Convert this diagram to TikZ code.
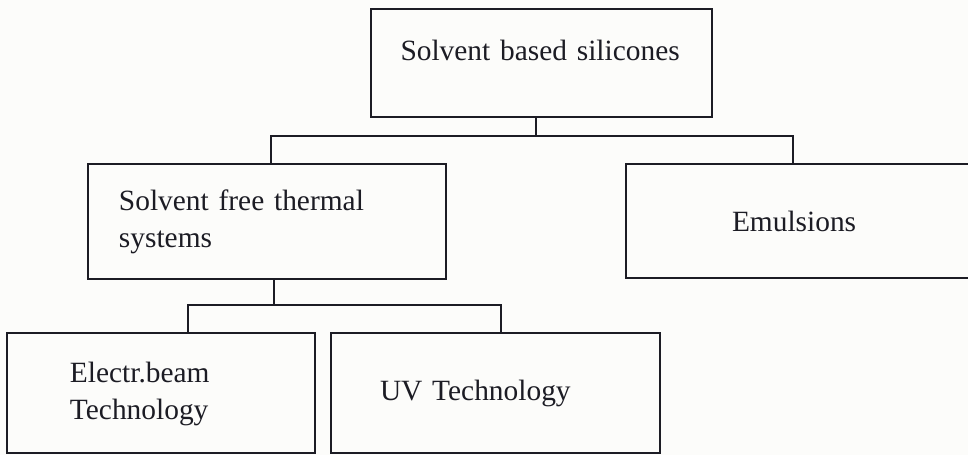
\documentclass[tikz,border=0pt]{standalone}
\usepackage{fontspec}
\setmainfont{Liberation Serif}
\usetikzlibrary{positioning}
\definecolor{ink}{HTML}{1C1C24}
\definecolor{paper}{HTML}{FCFCFA}

\begin{document}
\begin{tikzpicture}[
  font=\fontsize{14.7pt}{18.6pt}\selectfont, color=ink,
  box/.style={draw=ink, line width=1pt, inner ysep=0pt, outer sep=0pt, align=left},
  link/.style={draw=ink, line width=1pt},
]
% page
\useasboundingbox[fill=paper] (-185.5pt,4.5pt) rectangle (298.5pt,-223pt);

% boxes
\node[box, anchor=north west, inner xsep=14.75pt, text width=141pt,
      text height=25.5pt, text depth=28.5pt] (based) {Solvent based silicones};
\node[box, below=23.5pt of based.south west, anchor=north west, xshift=-141.5pt,
      inner xsep=15.5pt, text width=148pt, text height=23.35pt, text depth=34.15pt]
  (free) {Solvent free thermal\\systems};
\node[box, right=90pt of free.north east, anchor=north west,
      inner xsep=53pt, text width=74pt, text height=33.5pt, text depth=23.5pt]
  (emul) {Emulsions};
\node[box, below=27pt of free.south west, anchor=north west, xshift=-40.5pt,
      inner xsep=31.5pt, text width=91pt, text height=24.5pt, text depth=35.5pt]
  (ebeam) {Electr.beam\\Technology};
\node[box, right=8pt of ebeam.north east, anchor=north west,
      inner xsep=24.5pt, text width=115.5pt, text height=33.5pt, text depth=26.5pt]
  (uv) {UV Technology};

% connectors
\coordinate (split1) at ([xshift=-2.75pt, yshift=-9.5pt]based.south);
\draw[link] ([xshift=-2.75pt]based.south) -- (split1);
\draw[link] ([xshift=2pt]free.north) |- (split1) -| ([xshift=83.5pt]emul.north west);
\coordinate (split2) at ([xshift=3.5pt, yshift=-13pt]free.south);
\draw[link] ([xshift=3.5pt]free.south) -- (split2);
\draw[link] ([xshift=90.5pt]ebeam.north west) |- (split2) -| ([xshift=85pt]uv.north west);
\end{tikzpicture}
\end{document}
